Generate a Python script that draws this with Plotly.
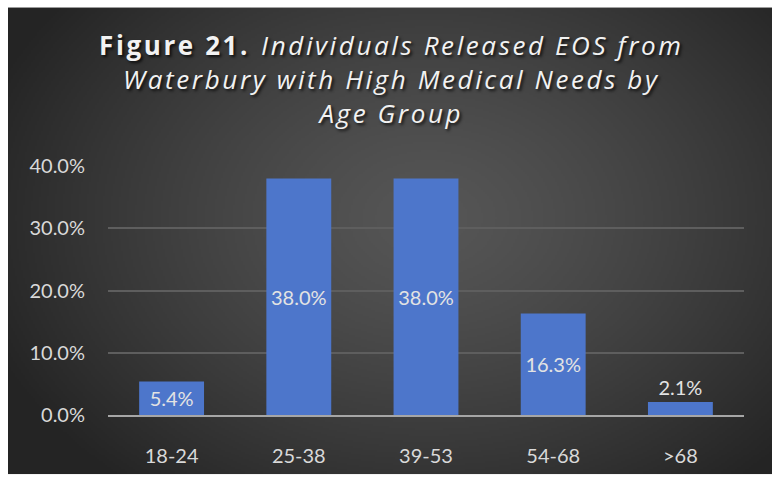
import base64
import struct
import zlib

import numpy as np
import plotly.graph_objects as go

# Share of individuals by age group
age_groups = ["18-24", "25-38", "39-53", "54-68", ">68"]
shares = [0.054, 0.380, 0.380, 0.163, 0.021]
label_positions = ["inside", "inside", "inside", "inside", "outside"]
y_ticks = [0.0, 0.1, 0.2, 0.3, 0.4]

title_lead = "Figure 21."
title_lines = [
    "Individuals Released EOS from",
    "Waterbury with High Medical Needs by",
    "Age Group",
]

W, H = 772, 479
L, R, T, B = 108, 28, 166, 60
PW, PH = W - L - R, H - T - B


def spaced(s):
    """Open up the tracking of a string with hair spaces."""
    return "\u200a".join(s)


def png_data_uri(rgb):
    """Encode an HxWx3 uint8 array as a PNG data URI."""
    h, w, _ = rgb.shape
    raw = b"".join(b"\x00" + rgb[i].tobytes() for i in range(h))

    def chunk(tag, data):
        c = struct.pack(">I", len(data)) + tag + data
        return c + struct.pack(">I", zlib.crc32(tag + data) & 0xFFFFFFFF)

    png = b"\x89PNG\r\n\x1a\n"
    png += chunk(b"IHDR", struct.pack(">IIBBBBB", w, h, 8, 2, 0, 0, 0))
    png += chunk(b"IDAT", zlib.compress(raw, 9))
    png += chunk(b"IEND", b"")
    return "data:image/png;base64," + base64.b64encode(png).decode()


# Radial dark-grey gradient for the chart panel
gw, gh = 382, 237
yy, xx = np.mgrid[0:gh, 0:gw].astype(float)
cx, cy = gw * 0.55, gh * 0.45
d = np.sqrt(((xx - cx) / (gw * 0.62)) ** 2 + ((yy - cy) / (gh * 0.75)) ** 2)
d = np.clip(d, 0, 1)
inner, outer = 86.0, 36.0
v = (inner + (outer - inner) * d ** 1.3).astype(np.uint8)
bg = np.stack([v, v, v], axis=-1)
bg_uri = png_data_uri(bg)

# Panel spans pixels x 8..772, y 5..479, mapped to paper coordinates
px0, py0, px1, py1 = 8, 5, W, H
img_x = (px0 - L) / PW
img_y = (H - B - py0) / PH
img_sx = (px1 - px0) / PW
img_sy = (py1 - py0) / PH

title_text = (
    f"<b>{spaced(title_lead)}</b>  <i>{spaced(title_lines[0])}</i><br>"
    + "<br>".join(f"<i>{spaced(t)}</i>" for t in title_lines[1:])
)

fig = go.Figure(
    go.Bar(
        x=age_groups,
        y=shares,
        marker=dict(color="#4d76cb", line=dict(width=0)),
        text=[f"{s * 100:.1f}%" for s in shares],
        textposition=label_positions,
        insidetextanchor="middle",
        textfont=dict(family="Lato", size=20, color="#e3e3e3"),
        constraintext="none",
        cliponaxis=False,
        hoverinfo="skip",
    )
)

fig.update_layout(
    width=W,
    height=H,
    margin=dict(l=L, r=R, t=T, b=B, pad=0),
    paper_bgcolor="white",
    plot_bgcolor="rgba(0,0,0,0)",
    bargap=0.49,
    showlegend=False,
    images=[
        dict(
            source=bg_uri,
            xref="paper",
            yref="paper",
            x=img_x,
            y=img_y,
            sizex=img_sx,
            sizey=img_sy,
            xanchor="left",
            yanchor="top",
            sizing="stretch",
            layer="below",
        )
    ],
    title=dict(
        text=title_text,
        x=390 / W,
        xref="container",
        xanchor="center",
        y=1 - 55 / H,
        yref="container",
        yanchor="top",
        font=dict(
            family="Open Sans",
            size=26,
            color="#f2f2f2",
            shadow="2px 2px 3px rgba(0,0,0,0.75)",
        ),
    ),
    xaxis=dict(
        showgrid=False,
        showline=True,
        linecolor="#a6a6a6",
        linewidth=2,
        ticks="",
        ticklabelstandoff=22,
        tickfont=dict(family="Lato", size=20, color="#d9d9d9"),
        fixedrange=True,
    ),
    yaxis=dict(
        range=[0, 0.4],
        tickvals=y_ticks,
        tickformat=".1%",
        showgrid=True,
        gridcolor="#5e5e5e",
        gridwidth=1.5,
        zeroline=False,
        showline=False,
        ticks="",
        ticklabelstandoff=22,
        tickfont=dict(family="Lato", size=20, color="#d9d9d9"),
        fixedrange=True,
    ),
)

fig.write_html("out.html")
